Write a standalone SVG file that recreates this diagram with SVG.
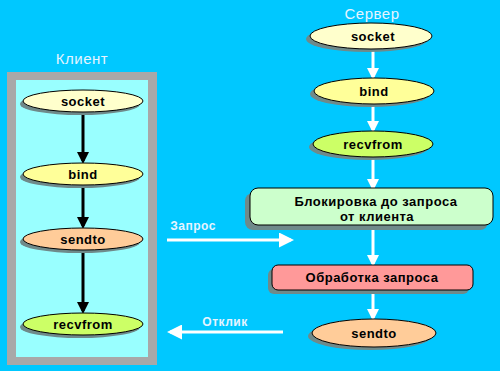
<svg xmlns="http://www.w3.org/2000/svg" width="500" height="371" viewBox="0 0 500 371">
<defs>
<style>
.t{font-family:"Liberation Sans",Arial,sans-serif;font-size:13px;font-weight:bold;fill:#000;text-anchor:middle;letter-spacing:0.5px}
.h{font-family:"Liberation Sans",Arial,sans-serif;font-size:15px;fill:#E6F4FF;text-anchor:middle;letter-spacing:0.5px}
.l{font-family:"Liberation Sans",Arial,sans-serif;font-size:12px;font-weight:bold;fill:#E6F4FF;text-anchor:middle;letter-spacing:0.5px}
.sh{fill:#6F8A8A}
.n{stroke:#000;stroke-width:1}
.bk{stroke:#000;stroke-width:3;fill:none}
.wh{stroke:#fff;stroke-width:3;fill:none}
</style>
<marker id="ab" markerWidth="4" markerHeight="4" refX="3" refY="2" orient="auto" markerUnits="strokeWidth"><path d="M0,0 L4,2 L0,4 z" fill="#000"/></marker>
<marker id="aw" markerWidth="4" markerHeight="4" refX="3" refY="2" orient="auto" markerUnits="strokeWidth"><path d="M0,0 L4,2 L0,4 z" fill="#fff"/></marker>
<marker id="awl" markerWidth="5" markerHeight="5" refX="4" refY="2.5" orient="auto" markerUnits="strokeWidth"><path d="M0,0 L5,2.5 L0,5 z" fill="#fff"/></marker>
</defs>
<rect width="500" height="371" fill="#00C8FF"/>
<g id="client-panel">
<rect x="7" y="72" width="150" height="293" fill="#A8A8A8"/>
<rect x="16" y="80" width="132" height="277" fill="#99FFFF"/>
<text class="h" x="82" y="64">Клиент</text>
</g>
<text class="h" x="372" y="19" id="server-label">Сервер</text>
<g id="connectors">
<line class="bk" x1="83" y1="113" x2="83" y2="161" marker-end="url(#ab)"/>
<line class="bk" x1="83" y1="186" x2="83" y2="226" marker-end="url(#ab)"/>
<line class="bk" x1="83" y1="251" x2="83" y2="311" marker-end="url(#ab)"/>
<line class="wh" x1="373" y1="50" x2="373" y2="77" marker-end="url(#aw)"/>
<line class="wh" x1="373" y1="105" x2="373" y2="130" marker-end="url(#aw)"/>
<line class="wh" x1="373" y1="158" x2="373" y2="188" marker-end="url(#aw)"/>
<line class="wh" x1="373" y1="225" x2="373" y2="264" marker-end="url(#aw)"/>
<line class="wh" x1="373" y1="290" x2="373" y2="318" marker-end="url(#aw)"/>
<line class="wh" x1="167" y1="240" x2="291" y2="240" marker-end="url(#awl)"/>
<line class="wh" x1="283" y1="332" x2="170" y2="332" marker-end="url(#awl)"/>
<text class="l" x="193" y="230">Запрос</text>
<text class="l" x="225" y="326">Отклик</text>
</g>
<g id="c-socket"><ellipse class="sh" cx="80" cy="104" rx="60" ry="11"/><ellipse class="n" cx="83" cy="101" rx="60" ry="11" fill="#FFFFCC"/><text class="t" x="83" y="106">socket</text></g>
<g id="c-bind"><ellipse class="sh" cx="80" cy="177" rx="60" ry="11"/><ellipse class="n" cx="83" cy="174" rx="60" ry="11" fill="#FFFF99"/><text class="t" x="83" y="179">bind</text></g>
<g id="c-sendto"><ellipse class="sh" cx="80" cy="242" rx="60" ry="11"/><ellipse class="n" cx="83" cy="239" rx="60" ry="11" fill="#FFCC99"/><text class="t" x="83" y="244">sendto</text></g>
<g id="c-recvfrom"><ellipse class="sh" cx="80" cy="327" rx="60" ry="11"/><ellipse class="n" cx="83" cy="324" rx="60" ry="11" fill="#CCFF66"/><text class="t" x="83" y="329">recvfrom</text></g>
<g id="s-socket"><ellipse class="sh" cx="367" cy="39" rx="61" ry="13"/><ellipse class="n" cx="371" cy="36" rx="61" ry="13" fill="#FFFFCC"/><text class="t" x="373" y="41">socket</text></g>
<g id="s-bind"><ellipse class="sh" cx="370" cy="94" rx="60" ry="13"/><ellipse class="n" cx="374" cy="91" rx="60" ry="13" fill="#FFFF99"/><text class="t" x="374" y="96">bind</text></g>
<g id="s-recvfrom"><ellipse class="sh" cx="369" cy="147" rx="60" ry="13"/><ellipse class="n" cx="373" cy="144" rx="60" ry="13" fill="#CCFF66"/><text class="t" x="373" y="149">recvfrom</text></g>
<g id="s-block"><rect class="sh" x="245" y="193" width="243" height="37" rx="8"/><rect class="n" x="250" y="188" width="243" height="37" rx="8" fill="#CCFFCC"/><text class="t" x="376" y="206">Блокировка до запроса</text><text class="t" x="377" y="221">от клиента</text></g>
<g id="s-process"><rect class="sh" x="268" y="269" width="201" height="25" rx="6"/><rect class="n" x="272" y="265" width="201" height="25" rx="6" fill="#FF9999"/><text class="t" x="372" y="282">Обработка запроса</text></g>
<g id="s-sendto"><ellipse class="sh" cx="370" cy="336" rx="62" ry="14"/><ellipse class="n" cx="374" cy="333" rx="62" ry="14" fill="#FFCC99"/><text class="t" x="374" y="338">sendto</text></g>
</svg>
